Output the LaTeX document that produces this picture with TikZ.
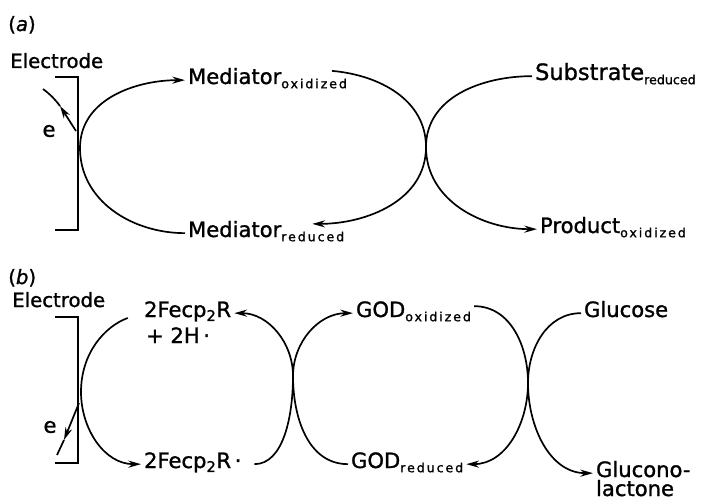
\documentclass[tikz,border=0pt]{standalone}
\usepackage{fontspec}
\setmainfont{DejaVu Sans}[FakeBold=1.2]
\newfontfamily\subfont[LetterSpace=15, FakeBold=1.2]{DejaVu Sans}
\usetikzlibrary{arrows.meta, calc}

\newcommand{\lowtxt}[1]{\raisebox{-3pt}{\fontsize{9}{10}\subfont #1}}
\newcommand{\plainlow}[1]{\raisebox{-3pt}{\fontsize{9}{10}\selectfont #1}}

\begin{document}
\begin{tikzpicture}[x=0.025cm, y=-0.025cm]
        \tikzstyle{chem} = [inner sep=2pt, font=\fontsize{15}{18}\selectfont]
        \tikzstyle{tag} = [inner sep=0pt, font=\fontsize{14}{17}\selectfont]
        \tikzstyle{wire} = [line width=1.2pt]
        \tikzstyle{arrow} = [wire, -{Stealth[length=9pt,width=5pt]}]

        \useasboundingbox (0,0) rectangle (704,499);

        % (a) mediator cycle
        \node (capa) [tag, anchor=base west] at (8,31) {(\textit{a})};
        \node (elA) [tag, anchor=base west] at (10,68) {Electrode};
        \draw [wire] (55,77) -- (78,77) -- (78,230) -- (55,230);
        \node (eA) [chem] at (49,131) {e};
        \coordinate (eA1) at (76,131);
        \coordinate (eA2) at (60,106);
        \coordinate (eA3) at (43,89);
        \draw [arrow] (eA1) -- (eA2);
        \draw [wire] (eA2) to[bend right=8] (eA3);

        \node (medox) [chem, anchor=base west] at (185,84) {Mediator\lowtxt{oxidized}};
        \node (medred) [chem, anchor=base west] at (185,237) {Mediator\lowtxt{reduced}};
        \node (subst) [chem, font=\fontsize{16}{19}\selectfont, anchor=base west] at (532,80) {Substrate\plainlow{reduced}};
        \node (prod) [chem, anchor=base west] at (537,233) {Product\lowtxt{oxidized}};
        \coordinate (leftA) at (80,148);
        \coordinate (crossA) at (426,147);

        \draw [arrow] (medred.mid west) to[out=180,in=-90] (leftA) to[out=90,in=180] (medox.mid west);
        \draw [arrow] ($(medox.north east)+(-18,6)$) to[out=-5,in=90] (crossA) to[out=-90,in=0] ($(medred.north east)+(-35,6)$);
        \draw [arrow] (subst.mid west) to[out=180,in=90] (crossA) to[out=-90,in=180] (prod.mid west);

        % (b) ferrocene / GOD cycle
        \node (capb) [tag, anchor=base west] at (8,284) {(\textit{b})};
        \node (elB) [tag, anchor=base west] at (12,307) {Electrode};
        \draw [wire] (55,317) -- (78,317) -- (78,463) -- (55,463);
        \node (eB) [chem] at (50,427) {e};
        \coordinate (eB1) at (79,403);
        \coordinate (eB2) at (64,440);
        \coordinate (eB3) at (57,455);
        \draw [arrow] (eB1) -- (eB2);
        \draw [wire] (eB2) -- (eB3);

        \node (fecpA) [chem, anchor=base west] at (141,317) {2Fecp\textsubscript{2}R};
        \node (htwo) [chem, anchor=base west] at (143,343) {+ 2H\,·};
        \node (fecpB) [chem, anchor=base west] at (141,468) {2Fecp\textsubscript{2}R\,·};
        \node (godox) [chem, anchor=base west] at (353,317) {GOD\lowtxt{oxidized}};
        \node (godred) [chem, anchor=base west] at (348,468) {GOD\lowtxt{reduced}};
        \node (gluc) [chem, anchor=base west] at (581,317) {Glucose};
        \node (glucl) [chem, anchor=base west] at (593,477) {Glucono-};
        \node (lact) [chem, anchor=base west] at (593,496) {lactone};
        \coordinate (leftB) at (81,392);
        \coordinate (crossB) at (293,376);
        \coordinate (crossC) at (528,383);

        \draw [arrow, shorten <=10pt] (fecpA.mid west) to[out=200,in=90] (leftB) to[out=-90,in=180] (fecpB.mid west);
        \draw [arrow, shorten <=7pt] (fecpB.mid east) to[out=0,in=-90] (crossB) to[out=90,in=0] (fecpA.mid east);
        \draw [arrow] (godred.mid west) to[out=180,in=-90] (crossB) to[out=90,in=180] (godox.mid west);
        \draw [arrow] ($(godox.mid east)+(0,-7)$) to[out=0,in=90] (crossC) to[out=-90,in=0] (godred.mid east);
        \draw [arrow] (gluc.mid west) to[out=180,in=90] (crossC) to[out=-90,in=180] (glucl.mid west);
\end{tikzpicture}
\end{document}
